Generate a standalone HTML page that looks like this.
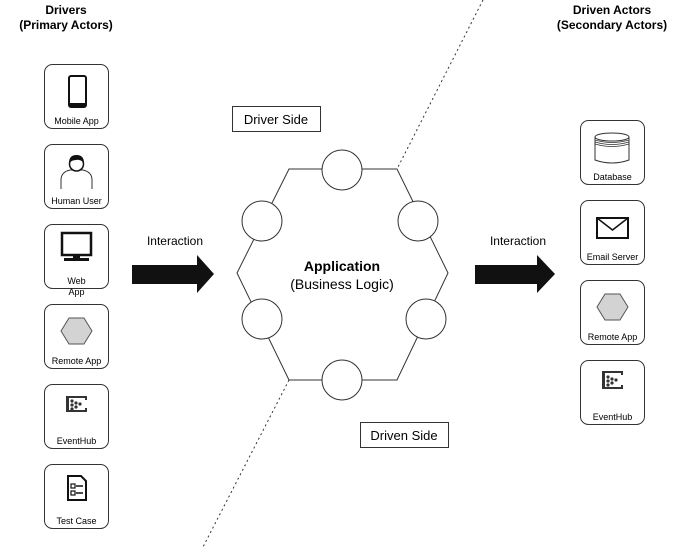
<!DOCTYPE html>
<html><head><meta charset="utf-8"><style>
html,body{margin:0;padding:0;background:#fff;}
svg{display:block;font-family:"Liberation Sans",Arial,sans-serif;}
</style></head><body>
<svg width="694" height="547" viewBox="0 0 694 547" xmlns="http://www.w3.org/2000/svg">
<rect width="694" height="547" fill="#fff"/>
<!-- dotted divider -->
<line x1="483" y1="0" x2="397" y2="169" stroke="#333" stroke-width="1" stroke-dasharray="2,3"/>
<line x1="289" y1="380" x2="203" y2="547" stroke="#333" stroke-width="1" stroke-dasharray="2,3"/>
<!-- titles -->
<text x="66" y="14" font-size="12" font-weight="bold" text-anchor="middle">Drivers</text>
<text x="66" y="29" font-size="12" font-weight="bold" text-anchor="middle">(Primary Actors)</text>
<text x="612" y="14" font-size="12" font-weight="bold" text-anchor="middle">Driven Actors</text>
<text x="612" y="29" font-size="12" font-weight="bold" text-anchor="middle">(Secondary Actors)</text>
<!-- hexagon -->
<polygon points="289,169 397,169 448,273 397,380 289,380 237,273" fill="#fff" stroke="#333" stroke-width="1"/>
<g fill="#fff" stroke="#333" stroke-width="1">
<circle cx="342" cy="170" r="20"/>
<circle cx="262" cy="221" r="20"/>
<circle cx="418" cy="221" r="20"/>
<circle cx="262" cy="319" r="20"/>
<circle cx="426" cy="319" r="20"/>
<circle cx="342" cy="380" r="20"/>
</g>
<text x="342" y="271" font-size="14" font-weight="bold" text-anchor="middle">Application</text>
<text x="342" y="289" font-size="14" text-anchor="middle">(Business Logic)</text>
<!-- side labels -->
<rect x="232.5" y="106.5" width="88" height="25" fill="#fff" stroke="#333"/>
<text x="276" y="124" font-size="13" text-anchor="middle">Driver Side</text>
<rect x="360.5" y="422.5" width="88" height="25" fill="#fff" stroke="#333"/>
<text x="404" y="440" font-size="13" text-anchor="middle">Driven Side</text>
<!-- arrows -->
<text x="175" y="245" font-size="12" text-anchor="middle">Interaction</text>
<polygon points="132,265 197,265 197,255 214,274 197,293 197,284 132,284" fill="#111"/>
<text x="518" y="245" font-size="12" text-anchor="middle">Interaction</text>
<polygon points="475,265 537,265 537,255 555,274 537,293 537,284 475,284" fill="#111"/>
<!-- left boxes -->
<g fill="#fff" stroke="#333" stroke-width="1">
<rect x="44.5" y="64.5" width="64" height="64" rx="8"/>
<rect x="44.5" y="144.5" width="64" height="64" rx="8"/>
<rect x="44.5" y="224.5" width="64" height="64" rx="8"/>
<rect x="44.5" y="304.5" width="64" height="64" rx="8"/>
<rect x="44.5" y="384.5" width="64" height="64" rx="8"/>
<rect x="44.5" y="464.5" width="64" height="64" rx="8"/>
<rect x="580.5" y="120.5" width="64" height="64" rx="8"/>
<rect x="580.5" y="200.5" width="64" height="64" rx="8"/>
<rect x="580.5" y="280.5" width="64" height="64" rx="8"/>
<rect x="580.5" y="360.5" width="64" height="64" rx="8"/>
</g>
<g font-size="9" text-anchor="middle">
<text x="76.5" y="124">Mobile App</text>
<text x="76.5" y="204">Human User</text>
<text x="76.5" y="284">Web</text>
<text x="76.5" y="295">App</text>
<text x="76.5" y="364">Remote App</text>
<text x="76.5" y="444">EventHub</text>
<text x="76.5" y="524">Test Case</text>
<text x="612.5" y="180">Database</text>
<text x="612.5" y="260">Email Server</text>
<text x="612.5" y="340">Remote App</text>
<text x="612.5" y="420">EventHub</text>
</g>
<!-- icons -->
<rect x="69" y="76" width="17" height="31" rx="2" fill="#fff" stroke="#111" stroke-width="2"/>
<rect x="70" y="103" width="15" height="4" fill="#111"/>
<!-- human -->
<path d="M61,189 L61,180 Q61,172 70,170 L83,170 Q92,172 92,180 L92,189" fill="#fff" stroke="#333"/>
<circle cx="76.5" cy="164" r="7" fill="#fff" stroke="#111" stroke-width="1.5"/>
<path d="M69,163 Q69,155 76.5,155 Q84,155 84,163 Q80,159 76,160 Q72,160 69,163Z" fill="#111"/>
<!-- monitor -->
<rect x="62" y="233" width="29" height="22" fill="#fff" stroke="#111" stroke-width="2.5"/>
<rect x="73" y="256" width="7" height="3" fill="#111"/>
<rect x="64" y="258" width="25" height="3" fill="#111"/>
<!-- hexagons -->
<polygon points="69,318 84,318 92,331 84,344 69,344 61,331" fill="#d3d3d3" stroke="#555"/>
<polygon points="605,294 620,294 628,307 620,320 605,320 597,307" fill="#d3d3d3" stroke="#555"/>
<!-- eventhub -->
<g fill="#333">
<rect x="66" y="396" width="3" height="16"/><rect x="66" y="396" width="21" height="2"/><rect x="66" y="410" width="21" height="2"/><rect x="85" y="396" width="2" height="4"/><rect x="85" y="408" width="2" height="4"/>
<circle cx="72" cy="401" r="1.6"/><circle cx="76" cy="403" r="1.6"/><circle cx="72" cy="405" r="1.6"/><circle cx="80" cy="404" r="1.6"/><circle cx="76" cy="407" r="1.6"/><circle cx="72" cy="409" r="1.6"/>
<rect x="602" y="371" width="3" height="18"/><rect x="602" y="371" width="21" height="2"/><rect x="602" y="387" width="21" height="2"/><rect x="621" y="371" width="2" height="4"/><rect x="621" y="385" width="2" height="4"/>
<circle cx="608" cy="377" r="1.6"/><circle cx="612" cy="379" r="1.6"/><circle cx="608" cy="381" r="1.6"/><circle cx="616" cy="380" r="1.6"/><circle cx="612" cy="383" r="1.6"/><circle cx="608" cy="385" r="1.6"/>
</g>
<!-- test case -->
<path d="M68,476 L81,476 L86,481 L86,500 L68,500 Z" fill="#fff" stroke="#111" stroke-width="2"/>
<rect x="71" y="484" width="4" height="4" fill="none" stroke="#111" stroke-width="1.2"/>
<rect x="71" y="491" width="4" height="4" fill="none" stroke="#111" stroke-width="1.2"/>
<line x1="76" y1="486" x2="83" y2="486" stroke="#111" stroke-width="1.5"/>
<line x1="76" y1="493" x2="83" y2="493" stroke="#111" stroke-width="1.5"/>
<!-- database -->
<path d="M595,137 L595,160 Q612,166 629,160 L629,137" fill="#fff" stroke="#333"/>
<ellipse cx="612" cy="137" rx="17" ry="4" fill="#fff" stroke="#333"/>
<path d="M595,140 Q612,145 629,140 M595,142 Q612,147 629,142 M595,144 Q612,149 629,144" fill="none" stroke="#333" stroke-width="0.7"/>
<!-- mail -->
<rect x="597" y="218" width="31" height="20" fill="#fff" stroke="#111" stroke-width="2"/>
<polyline points="597,218 612.5,230 628,218" fill="none" stroke="#111" stroke-width="1.5"/>
</svg>
</body></html>
